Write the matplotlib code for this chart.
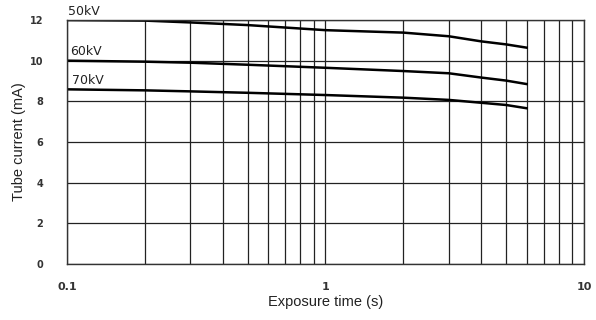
import matplotlib.pyplot as plt
from matplotlib.ticker import FixedLocator, NullFormatter

# exposure time (s) and tube current (mA)
t = [0.1, 0.2, 0.3, 0.5, 1, 2, 3, 4, 5, 6]
ma_50kv = [12.0, 11.97, 11.88, 11.75, 11.5, 11.38, 11.2, 10.95, 10.8, 10.64]
ma_60kv = [10.0, 9.95, 9.9, 9.8, 9.65, 9.49, 9.38, 9.17, 9.02, 8.85]
ma_70kv = [8.59, 8.54, 8.49, 8.42, 8.31, 8.18, 8.07, 7.93, 7.82, 7.66]

series = [("50kV", ma_50kv), ("60kV", ma_60kv), ("70kV", ma_70kv)]
label_pos = {"50kV": (0.101, 12.12), "60kV": (0.103, 10.15), "70kV": (0.105, 8.72)}

fig = plt.figure(figsize=(5.96, 3.2), dpi=100)
ax = fig.add_axes([0.1124, 0.175, 0.8674, 0.7625])

ax.set_xscale("log")
ax.set_xlim(0.1, 10)
ax.set_ylim(0, 12)

minor = [m * d for d in (0.1, 1) for m in range(2, 10)]
ax.xaxis.set_minor_locator(FixedLocator(minor))
ax.xaxis.set_minor_formatter(NullFormatter())
ax.set_xticks([0.1, 1, 10])
ax.set_xticklabels(["0.1", "1", "10"])
ax.set_yticks([0, 2, 4, 6, 8, 10, 12])

ax.grid(True, which="both", axis="x", color="#222222", lw=0.9)
ax.grid(True, which="major", axis="y", color="#222222", lw=0.9)
ax.set_axisbelow(True)

for name, vals in series:
    ax.plot(t, vals, color="black", lw=1.8)
    x, y = label_pos[name]
    ax.text(x, y, name, fontsize=9, family="DejaVu Sans", color="#222222",
            ha="left", va="bottom", clip_on=False)

for s in ax.spines.values():
    s.set_color("#333333")
    s.set_linewidth(1.0)

ax.tick_params(which="both", length=0)
ax.tick_params(axis="x", pad=13, labelsize=8, labelcolor="#333333")
ax.tick_params(axis="y", pad=17, labelsize=7, labelcolor="#333333")
for lab in ax.get_yticklabels() + ax.get_xticklabels():
    lab.set_family("DejaVu Sans")
    lab.set_fontweight("bold")

ax.set_xlabel("Exposure time (s)", fontsize=10.5, family="Liberation Sans",
              color="#222222", labelpad=2)
ax.set_ylabel("Tube current (mA)", fontsize=10.5, family="Liberation Sans",
              color="#222222", labelpad=3)

fig.savefig("out.png", dpi=100)
